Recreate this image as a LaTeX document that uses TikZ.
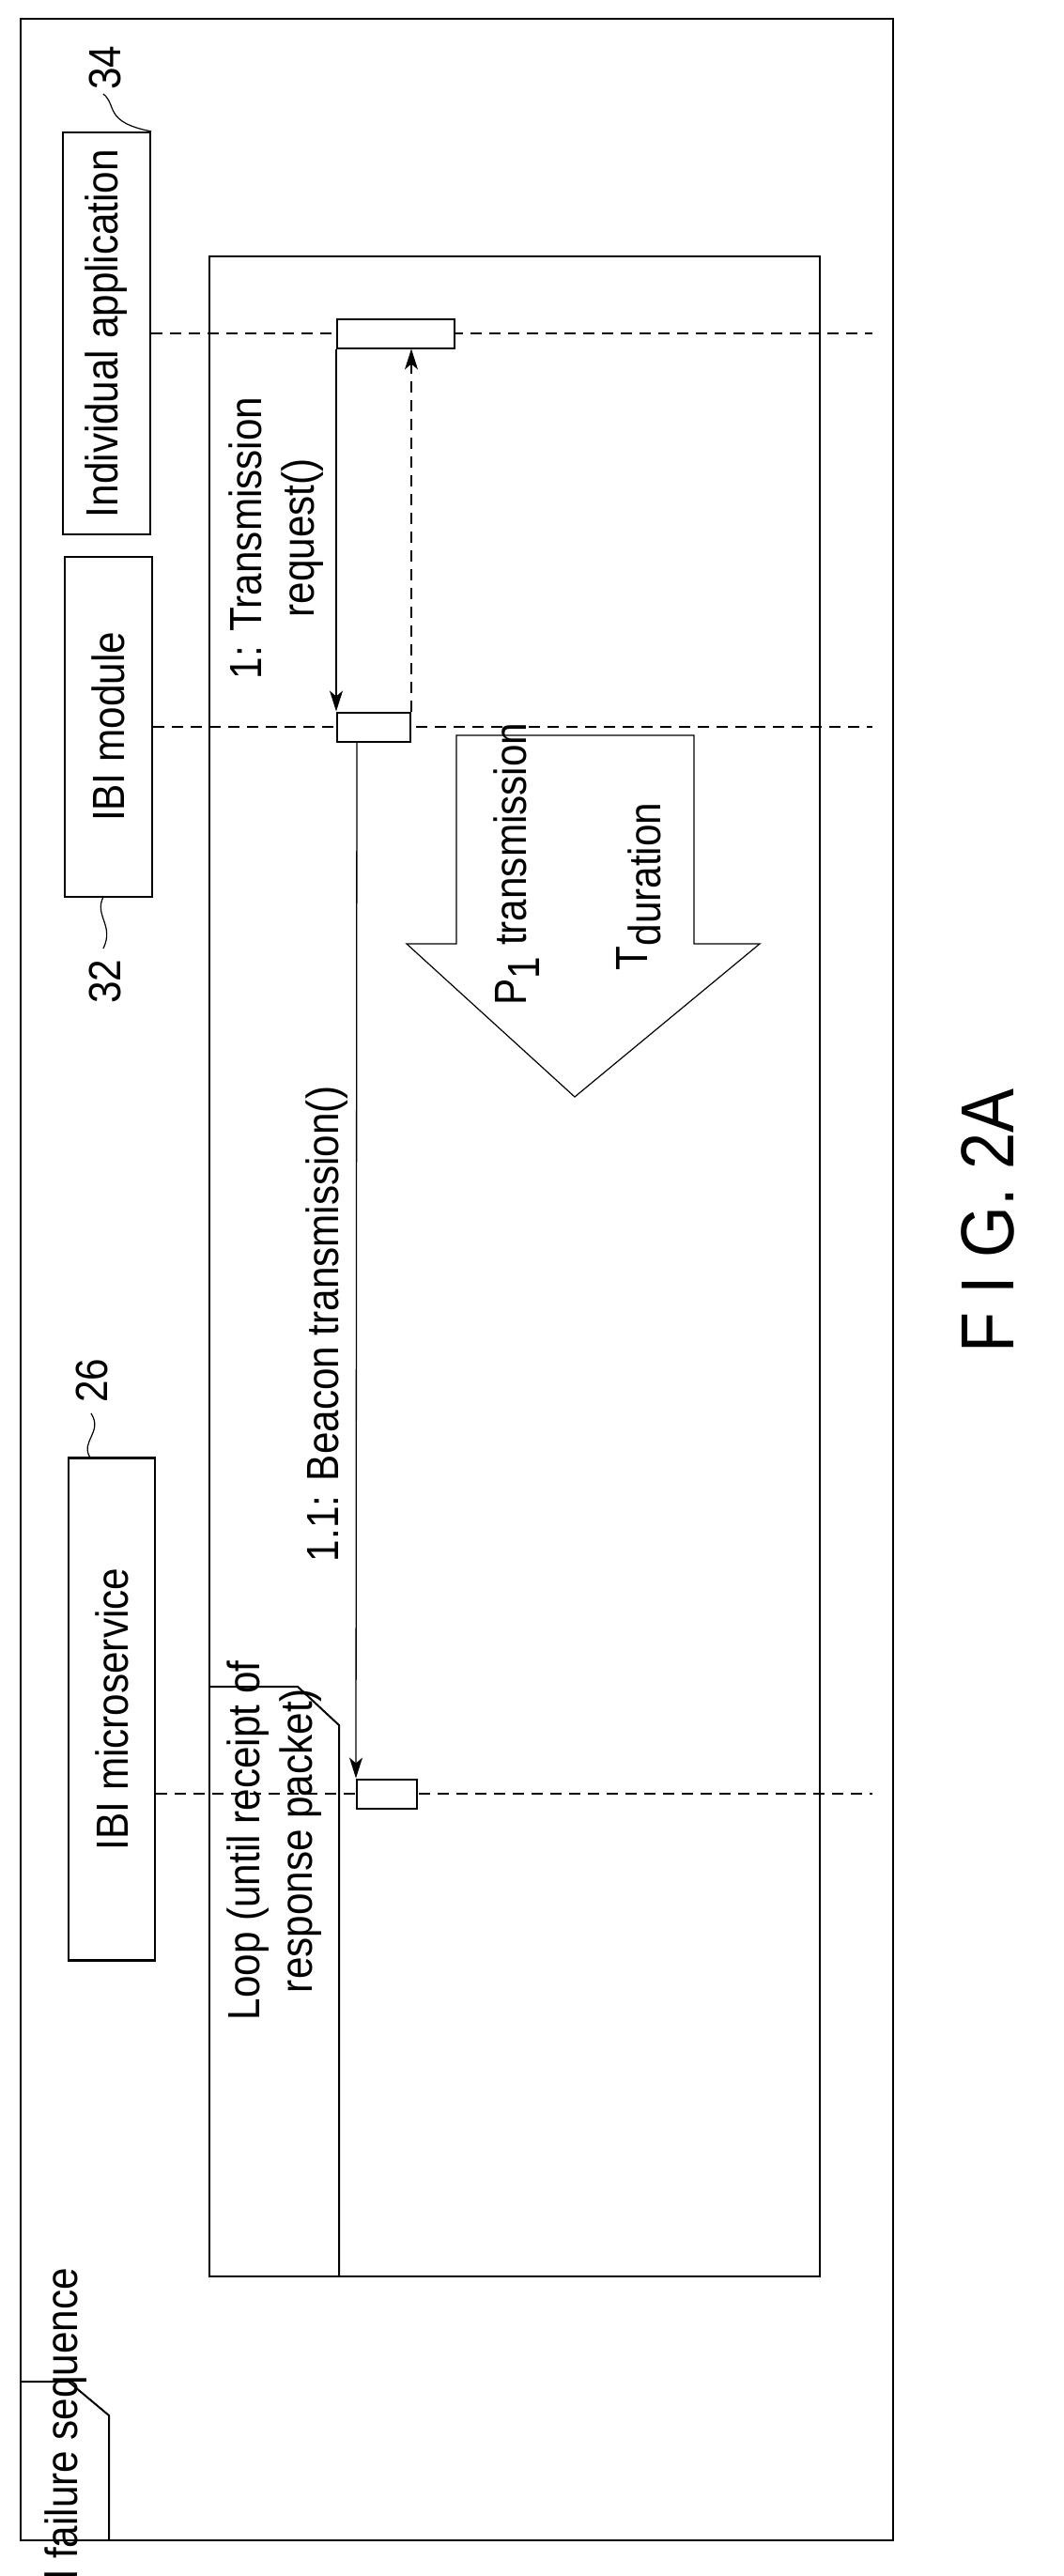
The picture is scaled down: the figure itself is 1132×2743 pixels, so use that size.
\documentclass[tikz,border=0pt]{standalone}
\usepackage{fontspec}
\setmainfont{Liberation Sans}[FakeStretch=0.88]
\usetikzlibrary{arrows.meta}
\begin{document}
\begin{tikzpicture}[x=1pt,y=-1pt,
  lbl/.style={rotate=90,font=\fontsize{48}{56}\selectfont,align=center,inner sep=0},
  box/.style={draw,line width=2.2pt},
  act/.style={draw,line width=2pt,fill=white},
  life/.style={dashed,dash pattern=on 12pt off 8pt,line width=1.2pt},
  msg/.style={line width=1.3pt,-{Stealth[length=22pt,width=14pt,inset=6pt]}}]
\useasboundingbox (0,0) rectangle (1132,2743);
% outer frame
\draw[box] (22,20) rectangle (951,2705);
\draw[line width=2pt] (22,2536) -- (73,2536) -- (116,2572) -- (116,2705);
\node[lbl] (sd) at (70,2598) {sd failure sequence};
% loop frame
\draw[box] (223,273) rectangle (873,2424);
\draw[line width=2pt] (223,1796) -- (317,1796) -- (361,1837) -- (361,2424);
\node[lbl] (loop) at (292,1960) {Loop (until receipt of\\response packet)};
% lifeline heads
\node[box,minimum width=93pt,minimum height=428pt,inner sep=0] (app) at (113.5,355) {};
\node[lbl] at (app) {Individual application};
\node[box,minimum width=93pt,minimum height=362pt,inner sep=0] (mod) at (115.5,774) {};
\node[lbl] at (mod) {IBI module};
\node[box,minimum width=92pt,minimum height=535pt,inner sep=0] (ms) at (119,1820) {};
\node[lbl] at (ms) {IBI microservice};
% reference numerals
\node[lbl] (n34) at (112,72) {34};
\draw[line width=1.2pt] (app.north east) .. controls (110,130) and (125,112) .. (110,100);
\node[lbl] (n32) at (112,1045) {32};
\draw[line width=1.2pt] (110,955) .. controls (100,975) and (122,985) .. (110,1010);
\node[lbl] (n26) at (98,1470) {26};
\draw[line width=1.2pt] (96,1552) .. controls (85,1535) and (110,1525) .. (97,1505);
% lifelines
\coordinate (appE) at (929,355);
\coordinate (modE) at (929,774);
\coordinate (msE) at (929,1910);
\draw[life] (app.east |- 0,355) -- (appE);
\draw[life] (mod.east |- 0,774) -- (modE);
\draw[life] (ms.east |- 0,1910) -- (msE);
% activations
\node[act,minimum width=125pt,minimum height=31pt,inner sep=0] (a1) at (421.5,355) {};
\node[act,minimum width=78pt,minimum height=31pt,inner sep=0] (a2) at (398,774) {};
\node[act,minimum width=64pt,minimum height=31pt,inner sep=0] (a3) at (412,1910) {};
% messages
\draw[msg] (a1.south west) -- (a2.north west);
\draw[msg,dashed,dash pattern=on 12pt off 8pt] (a2.north east) -- (a1.south west -| a2.north east);
\draw[msg] (a2.south west -| 380,0) -- (a3.north west);
\node[lbl] (m1) at (294,573) {1: Transmission\\request()};
\node[lbl] (m2) at (348,1410) {1.1: Beacon transmission()};
% big arrow
\draw[line width=1.2pt] (486,783) -- (739,783) -- (739,1005) -- (809,1005) -- (612,1168) -- (433,1005) -- (486,1005) -- cycle;
\node[lbl] (p1) at (550,920) {P\raisebox{-14pt}{1} transmission};
\node[lbl] (td) at (680,944) {T\raisebox{-14pt}{duration}};
% figure label
\node[lbl,font=\fontsize{80}{90}\selectfont] (fig) at (1052,1300) {F I G. 2A};
\end{tikzpicture}
\end{document}
